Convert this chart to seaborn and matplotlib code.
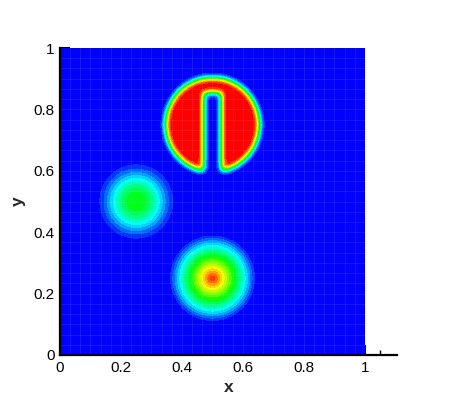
import numpy as np
import matplotlib
matplotlib.use("Agg")
import matplotlib.pyplot as plt
from matplotlib.colors import Normalize
from matplotlib.ticker import FixedLocator
import seaborn as sns

# ---- data: parameters of the three bodies (Zalesak rotation test) ----
disk_center = [0.5, 0.75]
disk_radius = 0.152
slot_halfwidth = 0.03
slot_top = 0.855
disk_smear = 0.0105

cone_center = [0.5, 0.25]
cone_radius = 0.145
cone_peak = 0.95

hump_center = [0.25, 0.5]
hump_radius = 0.15
hump_peak = 0.5

x_ticks = [0, 0.2, 0.4, 0.6, 0.8, 1]
y_ticks = [0, 0.2, 0.4, 0.6, 0.8, 1]
x_tick_labels = ["0", "0.2", "0.4", "0.6", "0.8", "1"]
y_tick_labels = ["0", "0.2", "0.4", "0.6", "0.8", "1"]
levels = np.linspace(0, 1, 21)
palette_colors = ["#0000ff", "#00ffff", "#00ff00", "#ffff00", "#ff0000"]
mesh_lines = np.linspace(0, 1, 31)[1:-1]

# ---- field ----
n = 400
xs = np.linspace(0, 1, n)
ys = np.linspace(0, 1, n)
X, Y = np.meshgrid(xs, ys)
h = xs[1] - xs[0]

# slotted disk indicator, smeared by a Gaussian (numerical diffusion)
r_d = np.hypot(X - disk_center[0], Y - disk_center[1])
slot = (np.abs(X - disk_center[0]) < slot_halfwidth) & (Y < slot_top)
ind = ((r_d <= disk_radius) & ~slot).astype(float)
sig = disk_smear / h
k = np.arange(-int(4 * sig) - 1, int(4 * sig) + 2)
kern = np.exp(-0.5 * (k / sig) ** 2)
kern /= kern.sum()
blur = np.apply_along_axis(lambda v: np.convolve(v, kern, mode="same"), 0, ind)
disk = np.apply_along_axis(lambda v: np.convolve(v, kern, mode="same"), 1, blur)

r_c = np.hypot(X - cone_center[0], Y - cone_center[1])
cone = cone_peak * np.clip(1 - r_c / cone_radius, 0, None)

r_h = np.hypot(X - hump_center[0], Y - hump_center[1])
hump = hump_peak * 0.5 * (1 + np.cos(np.pi * np.clip(r_h / hump_radius, 0, 1)))

Z = np.clip(disk + cone + hump, 0, 1)

# ---- plot ----
sns.set_theme(style="ticks")
plt.rcParams["font.family"] = ["Liberation Sans", "DejaVu Sans"]

cmap = sns.blend_palette(palette_colors, as_cmap=True)

fig = plt.figure(figsize=(4.5, 4.0), dpi=100)
ax = fig.add_axes([60 / 450, 45 / 400, 337 / 450, 307 / 400])
ax.contourf(X, Y, Z, levels=levels, cmap=cmap,
            norm=Normalize(vmin=0.025, vmax=0.975), antialiased=False)

# faint mesh lines visible in the flood
for v in mesh_lines:
    ax.plot([v, v], [0, 1], color="white", alpha=0.09, lw=0.7)
    ax.plot([0, 1], [v, v], color="white", alpha=0.09, lw=0.7)

ax.set_xlim(0, 1.105)
ax.set_ylim(0, 1)
ax.set_xticks(x_ticks)
ax.set_xticklabels(x_tick_labels)
ax.set_yticks(y_ticks)
ax.set_yticklabels(y_tick_labels)
ax.xaxis.set_minor_locator(FixedLocator(
    [v for v in np.round(np.arange(0.05, 1.1, 0.05), 2) if v not in x_ticks]))
ax.yaxis.set_minor_locator(FixedLocator(
    [v for v in np.round(np.arange(0.05, 1.0, 0.05), 2) if v not in y_ticks]))

for s in ["top", "right"]:
    ax.spines[s].set_visible(False)
for s in ["left", "bottom"]:
    ax.spines[s].set_linewidth(1.6)
    ax.spines[s].set_color("black")
    ax.spines[s].set_zorder(5)

ax.tick_params(which="major", direction="in", length=7, width=1.5,
               labelsize=11, pad=4, colors="black")
ax.tick_params(which="minor", direction="in", length=3.5, width=1.0,
               colors="black")

ax.set_xlabel("x", fontsize=12.5, fontweight="bold", labelpad=4)
ax.set_ylabel("y", fontsize=12.5, fontweight="bold", labelpad=5)

fig.savefig("out.png", dpi=100)
